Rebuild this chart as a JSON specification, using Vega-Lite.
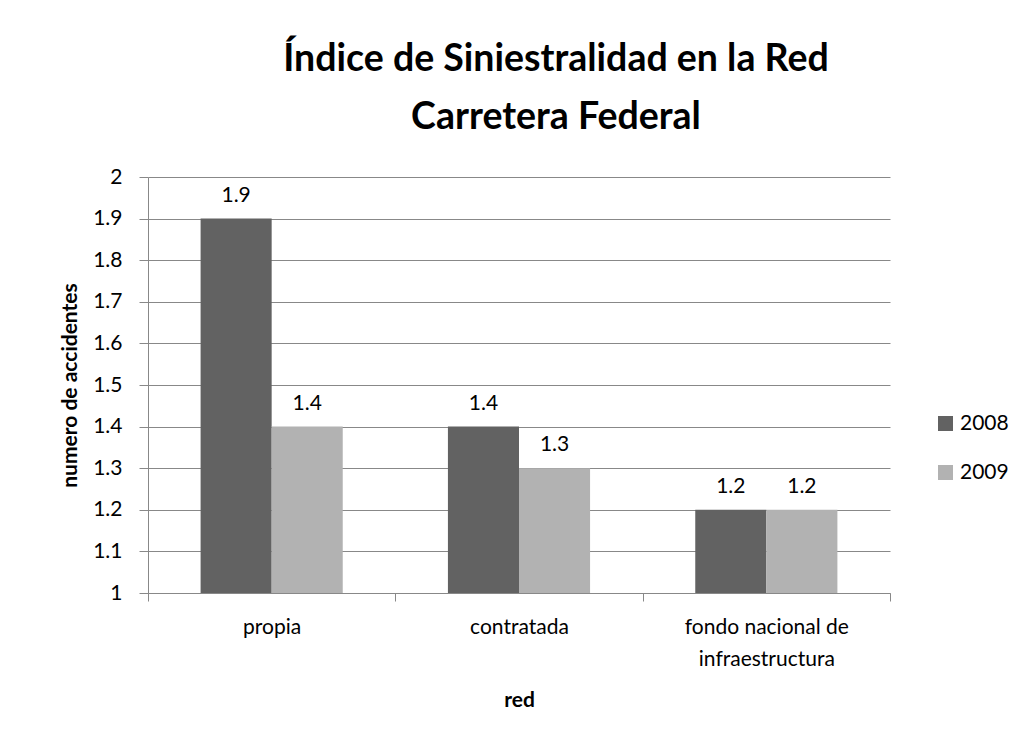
{
  "$schema": "https://vega.github.io/schema/vega-lite/v6.json",
  "autosize": {"type": "none"},
  "padding": {"left": 148, "top": 177, "right": 127, "bottom": 153},
  "width": 742,
  "height": 416,
  "background": "white",
  "title": {
    "text": ["Índice de Siniestralidad en la Red", "Carretera Federal"],
    "font": "Lato",
    "fontSize": 37.5,
    "fontWeight": "bold",
    "color": "black",
    "lineHeight": 58,
    "anchor": "middle",
    "dx": 37,
    "offset": 30
  },
  "data": {
    "values": [
      {"red": "propia", "year": "2008", "value": 1.9},
      {"red": "propia", "year": "2009", "value": 1.4},
      {"red": "contratada", "year": "2008", "value": 1.4},
      {"red": "contratada", "year": "2009", "value": 1.3},
      {"red": "fondo nacional de infraestructura", "year": "2008", "value": 1.2},
      {"red": "fondo nacional de infraestructura", "year": "2009", "value": 1.2}
    ]
  },
  "encoding": {
    "x": {
      "field": "red",
      "type": "nominal",
      "sort": null,
      "title": "red",
      "scale": {"paddingInner": 0, "paddingOuter": 0},
      "axis": {
        "labelAngle": 0,
        "labelFont": "Lato",
        "labelFontSize": 21,
        "labelColor": "black",
        "labelPadding": 15,
        "labelLineHeight": 32,
        "labelExpr": "datum.label == 'fondo nacional de infraestructura' ? ['fondo nacional de', 'infraestructura'] : datum.label",
        "titleFont": "Lato",
        "titleFontSize": 21,
        "titleFontWeight": "bold",
        "titleColor": "black",
        "titlePadding": 20,
        "domainColor": "#888888",
        "tickColor": "#888888",
        "tickBand": "extent",
        "tickSize": 8,
        "grid": false
      }
    },
    "y": {
      "field": "value",
      "type": "quantitative",
      "title": "numero de accidentes",
      "scale": {"domain": [1, 2], "zero": false, "nice": false},
      "axis": {
        "values": [1, 1.1, 1.2, 1.3, 1.4, 1.5, 1.6, 1.7, 1.8, 1.9, 2],
        "labelExpr": "datum.value == 1 ? '1' : datum.value == 2 ? '2' : format(datum.value, '.1f')",
        "labelFont": "Lato",
        "labelFontSize": 21,
        "labelColor": "black",
        "labelPadding": 17,
        "titleFont": "Lato",
        "titleFontSize": 21,
        "titleFontWeight": "bold",
        "titleColor": "black",
        "titlePadding": 12,
        "domainColor": "#888888",
        "tickColor": "#888888",
        "tickSize": 9,
        "gridColor": "#888888",
        "gridWidth": 1
      }
    },
    "xOffset": {"field": "year", "type": "nominal", "scale": {"paddingInner": 0, "paddingOuter": 0.74}}
  },
  "layer": [
    {
      "mark": {"type": "bar", "clip": true},
      "encoding": {
        "color": {
          "field": "year",
          "type": "nominal",
          "scale": {"domain": ["2008", "2009"], "range": ["#626262", "#b2b2b2"]},
          "legend": {
            "title": null,
            "orient": "none",
            "legendX": 787,
            "legendY": 236,
            "symbolType": "square",
            "symbolSize": 225,
            "symbolStrokeWidth": 0,
            "labelFont": "Lato",
            "labelFontSize": 21,
            "labelColor": "black",
            "rowPadding": 27,
            "labelOffset": 4
          }
        }
      }
    },
    {
      "mark": {"type": "text", "baseline": "alphabetic", "dy": -17, "font": "Lato", "fontSize": 21, "color": "black"},
      "encoding": {
        "text": {"field": "value", "type": "quantitative", "format": ".1f"}
      }
    }
  ],
  "config": {
    "view": {"stroke": null}
  }
}
